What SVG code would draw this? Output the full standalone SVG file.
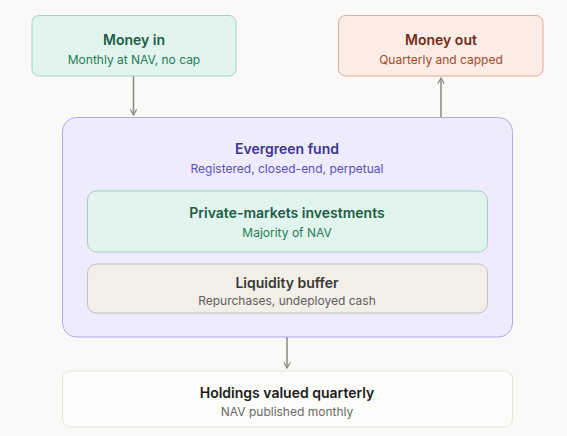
<svg xmlns="http://www.w3.org/2000/svg" width="567" height="436" viewBox="0 0 567 436">
<defs>
<style>
text{font-family:Inter,"Noto Sans","Liberation Sans",sans-serif;text-anchor:middle}
.t{font-size:14px;font-weight:600}
.s{font-size:12px;font-weight:400}
.conn{stroke:#8a8985;stroke-width:1.5;fill:none}
</style>
<marker id="ah" viewBox="0 0 10 10" refX="8" refY="5" markerWidth="8" markerHeight="8" orient="auto" markerUnits="userSpaceOnUse">
<path d="M1,1 L8,5 L1,9" fill="none" stroke="#8a8985" stroke-width="1.4"/>
</marker>
</defs>
<rect width="567" height="436" fill="#faf9f7"/>
<g id="connectors">
<line class="conn" x1="133.5" y1="76" x2="133.5" y2="115" marker-end="url(#ah)"/>
<line class="conn" x1="441" y1="117" x2="441" y2="78" marker-end="url(#ah)"/>
<line class="conn" x1="287" y1="337" x2="287" y2="368" marker-end="url(#ah)"/>
</g>
<g id="money-in">
<rect x="32" y="15.5" width="204" height="60.5" rx="7" fill="#e1f5ee" stroke="#9fd6c1"/>
<text class="t" x="134" y="45" fill="#1c5c44">Money in</text>
<text class="s" x="134" y="64" fill="#287a59">Monthly at NAV, no cap</text>
</g>
<g id="money-out">
<rect x="338.5" y="15.5" width="204.5" height="60.5" rx="7" fill="#fbece6" stroke="#e2aa98"/>
<text class="t" x="441" y="45" fill="#742b12">Money out</text>
<text class="s" x="441" y="64" fill="#a4492a">Quarterly and capped</text>
</g>
<g id="evergreen-fund">
<rect x="62.5" y="117.5" width="450" height="219.5" rx="14" fill="#eeebfd" stroke="#b1a9e8"/>
<text class="t" x="287" y="154" fill="#3c3592">Evergreen fund</text>
<text class="s" x="287" y="173" fill="#5a4fc3">Registered, closed-end, perpetual</text>
</g>
<g id="private-markets">
<rect x="87.5" y="191" width="400" height="61" rx="9" fill="#e1f5ee" stroke="#a3d3c0"/>
<text class="t" x="287" y="218" fill="#1c5c44">Private-markets investments</text>
<text class="s" x="287" y="237" fill="#287a59">Majority of NAV</text>
</g>
<g id="liquidity-buffer">
<rect x="87.5" y="264" width="400" height="49" rx="9" fill="#f2efe9" stroke="#c6c2bb"/>
<text class="t" x="287" y="287.5" fill="#3a3936">Liquidity buffer</text>
<text class="s" x="287" y="304.5" fill="#5f5e5a">Repurchases, undeployed cash</text>
</g>
<g id="holdings">
<rect x="62.5" y="371" width="450" height="56" rx="8" fill="#fcfcfb" stroke="#e4e2dd"/>
<text class="t" x="287" y="397.5" fill="#1c1c1b">Holdings valued quarterly</text>
<text class="s" x="287" y="416" fill="#6a6964">NAV published monthly</text>
</g>
</svg>
